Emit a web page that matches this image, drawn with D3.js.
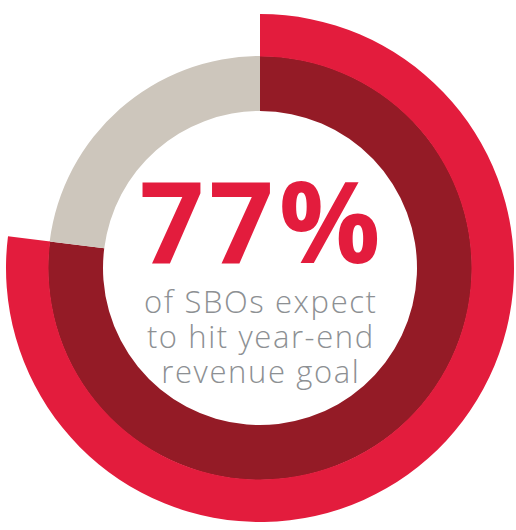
<!DOCTYPE html>
<html>
<head>
<meta charset="utf-8">
<script src="https://cdn.jsdelivr.net/npm/d3@7"></script>
<style>
  body{margin:0;background:#fff;}
  svg{display:block;}
</style>
</head>
<body>
<div class="donut"></div>
<script>
/*data*/
var labels=["expect to hit goal","do not"];
var values=[77,23];
var colors=["#941b26","#cdc6bc"];
var highlightColor="#e31c3d";
var bigText="77%";
var subLines=["of SBOs expect","to hit year-end","revenue goal"];

/*dimensions*/
var width=516;
var height=530;
var cx=260, cy=268;

var svg=d3.select(".donut").append("svg")
  .attr("width", width)
  .attr("height", height);

var g=svg.append("g")
  .attr("transform", "translate("+cx+","+cy+")");

var pie=d3.pie().sort(null).value(function(d){return d;});
var slices=pie(values);

/*inner ring*/
var arc=d3.arc().innerRadius(157).outerRadius(212);
g.selectAll("path.slice")
  .data(slices)
  .enter().append("path")
  .attr("class", "slice")
  .attr("d", arc)
  .attr("fill", function(d,i){return colors[i];});

/*outer highlight arc, same span as first slice*/
var outer=d3.arc().innerRadius(211.5).outerRadius(254);
g.append("path")
  .attr("d", outer({startAngle: slices[0].startAngle, endAngle: slices[0].endAngle}))
  .attr("fill", highlightColor);

/*center text*/
g.append("text")
  .text(bigText)
  .attr("text-anchor", "middle")
  .attr("y", -5)
  .attr("dx", 2.5)
  .style("letter-spacing", "5px")
  .style("font-family", "'Open Sans', sans-serif")
  .style("font-weight", 700)
  .style("font-size", "113px")
  .style("fill", highlightColor);

g.selectAll("text.sub")
  .data(subLines)
  .enter().append("text")
  .attr("class", "sub")
  .text(function(d){return d;})
  .attr("text-anchor", "middle")
  .attr("y", function(d,i){return 45+i*35;})
  .attr("dx", 0.8)
  .style("letter-spacing", "1.6px")
  .style("font-family", "'Open Sans', sans-serif")
  .style("font-weight", 300)
  .style("font-size", "31px")
  .style("fill", "#8d9093");
</script>
</body>
</html>
